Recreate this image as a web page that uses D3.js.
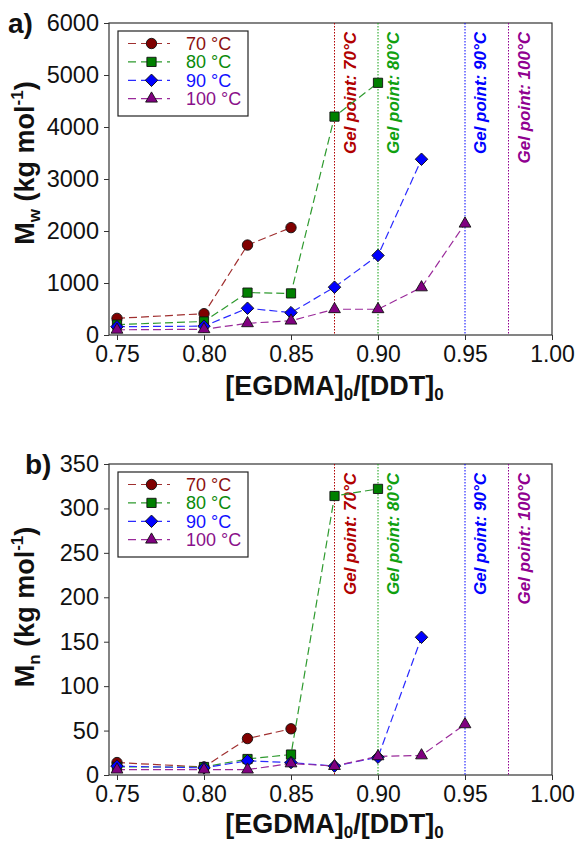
<!DOCTYPE html>
<html>
<head>
<meta charset="utf-8">
<script src="https://cdn.jsdelivr.net/npm/d3@7"></script>
<style>
  body { margin: 0; background: #fff; }
  text { font-family: Arial, "Liberation Sans", sans-serif; }
</style>
</head>
<body>
<svg id="chart" width="576" height="845"></svg>
<script>
// data
var temps = ["70 °C", "80 °C", "90 °C", "100 °C"];
var xs70 = [0.75, 0.80, 0.825, 0.85];
var xs80 = [0.75, 0.80, 0.825, 0.85, 0.875, 0.90];
var xs90 = [0.75, 0.80, 0.825, 0.85, 0.875, 0.90, 0.925];
var xs100 = [0.75, 0.80, 0.825, 0.85, 0.875, 0.90, 0.925, 0.95];

var mw70 = [320, 410, 1730, 2065];
var mw80 = [200, 260, 815, 800, 4200, 4850];
var mw90 = [160, 170, 515, 430, 920, 1530, 3380];
var mw100 = [100, 110, 225, 275, 495, 495, 915, 2140];

var mn70 = [14, 9, 41, 52];
var mn80 = [9, 9, 18, 23, 314, 322];
var mn90 = [10, 8, 16, 14, 10, 20, 155];
var mn100 = [6, 6, 6, 13, 10, 21, 22, 57];

var gelX = [0.875, 0.90, 0.95, 0.975];
var gelLabels = ["Gel point: 70°C", "Gel point: 80°C", "Gel point: 90°C", "Gel point: 100°C"];

var xTicks = [0.75, 0.80, 0.85, 0.90, 0.95, 1.00];
var mwTicks = [0, 1000, 2000, 3000, 4000, 5000, 6000];
var mnTicks = [0, 50, 100, 150, 200, 250, 300, 350];

var markerFill = ["#800000", "#008000", "#0000ff", "#800080"];
var lineColor = ["#a03030", "#2e9a2e", "#2a2aff", "#9a2a9a"];
var textColor = ["#8b1010", "#0a8a0a", "#1010ff", "#8a108a"];
var gelColor = ["#b00000", "#10a010", "#0000ff", "#900090"];

var svg = d3.select("#chart");

function markerPath(i) {
    if (i == 0) return d3.symbol().type(d3.symbolCircle).size(85)();
    if (i == 1) return d3.symbol().type(d3.symbolSquare).size(85)();
    if (i == 2) return d3.symbol().type(d3.symbolSquare).size(78)();
    return d3.symbol().type(d3.symbolTriangle).size(60)();
}
function markerRot(i) { return i == 2 ? " rotate(45)" : ""; }

function panel(opts) {
    var left = 109, right = 552, top = opts.top, bottom = opts.bottom;
    var g = svg.append("g");

    var x = d3.scaleLinear().domain([0.7454, 1.0]).range([left, right]);
    var y = d3.scaleLinear().domain([0, opts.ymax]).range([bottom, top]);

    // frame
    g.append("rect")
        .attr("x", left).attr("y", top)
        .attr("width", right - left).attr("height", bottom - top)
        .attr("fill", "none").attr("stroke", "#333").attr("stroke-width", 1.2);

    // x axis: major + minor ticks
    var xAxis = g.append("g").attr("transform", "translate(0," + bottom + ")");
    xAxis.call(d3.axisBottom(x).tickValues(d3.range(0.75, 1.0001, 0.01)).tickSize(3).tickFormat(""));
    xAxis.call(d3.axisBottom(x).tickValues(xTicks).tickSize(5).tickPadding(6).tickFormat(d3.format(".2f")));
    xAxis.selectAll("path.domain").remove();
    xAxis.selectAll("line").attr("stroke", "#333");
    xAxis.selectAll("text").attr("font-size", 23).attr("fill", "#111");

    var yAxis = g.append("g").attr("transform", "translate(" + left + ",0)");
    yAxis.call(d3.axisLeft(y).tickValues(opts.yticks).tickSize(5).tickPadding(5).tickFormat(d3.format("d")));
    yAxis.select("path.domain").remove();
    yAxis.selectAll("line").attr("stroke", "#333");
    yAxis.selectAll("text").attr("font-size", 23.5).attr("fill", "#111");

    // gel point lines
    gelX.forEach(function (gx, i) {
        g.append("line")
            .attr("x1", x(gx)).attr("x2", x(gx))
            .attr("y1", top).attr("y2", bottom)
            .attr("stroke", gelColor[i]).attr("stroke-width", 1)
            .attr("stroke-dasharray", "1.5,1.5");
        g.append("text")
            .attr("transform", "translate(" + (x(gx) + 21) + "," + (top + 9) + ") rotate(-90)")
            .attr("text-anchor", "end")
            .attr("font-size", 17).attr("font-weight", "bold").attr("font-style", "italic")
            .attr("fill", gelColor[i])
            .text(gelLabels[i]);
    });

    // series
    var line = d3.line().x(function (d) { return x(d[0]); }).y(function (d) { return y(d[1]); });
    opts.series.forEach(function (s, i) {
        var pts = d3.zip(s.xs, s.ys);
        g.append("path").datum(pts)
            .attr("d", line)
            .attr("fill", "none")
            .attr("stroke", lineColor[i]).attr("stroke-width", 1.2)
            .attr("stroke-dasharray", "8,4");
    });
    opts.series.forEach(function (s, i) {
        var pts = d3.zip(s.xs, s.ys);
        g.selectAll(".m" + i).data(pts).enter().append("path")
            .attr("transform", function (d) { return "translate(" + x(d[0]) + "," + y(d[1]) + ")" + markerRot(i); })
            .attr("d", markerPath(i))
            .attr("fill", markerFill[i]).attr("stroke", "#111").attr("stroke-width", 0.9);
    });

    // legend
    var lg = g.append("g").attr("transform", "translate(118," + (top + 8) + ")");
    lg.append("rect").attr("width", 130).attr("height", 85)
        .attr("fill", "#fff").attr("stroke", "#222").attr("stroke-width", 1.2);
    temps.forEach(function (t, i) {
        var ry = 12.5 + i * 18.4;
        lg.append("line").attr("x1", 10).attr("x2", 52).attr("y1", ry).attr("y2", ry)
            .attr("stroke", lineColor[i]).attr("stroke-width", 1.2)
            .attr("stroke-dasharray", "8,5");
        lg.append("path")
            .attr("transform", "translate(33.5," + ry + ")" + markerRot(i))
            .attr("d", markerPath(i))
            .attr("fill", markerFill[i]).attr("stroke", "#111").attr("stroke-width", 0.9);
        lg.append("text").attr("x", 68).attr("y", ry + 6.5)
            .attr("font-size", 18).attr("fill", textColor[i]).text(t);
    });

    // axis titles
    var xt = g.append("text")
        .attr("x", (left + right) / 2 + 4).attr("y", bottom + opts.xtitleDy)
        .attr("text-anchor", "middle").attr("font-size", 27).attr("font-weight", "bold").attr("fill", "#111");
    xt.append("tspan").text("[EGDMA]");
    xt.append("tspan").attr("font-size", 17).attr("dy", 5).text("0");
    xt.append("tspan").attr("dy", -5).text("/[DDT]");
    xt.append("tspan").attr("font-size", 17).attr("dy", 5).text("0");

    var yt = g.append("text")
        .attr("transform", "translate(34," + opts.ytitleY + ") rotate(-90)")
        .attr("text-anchor", "middle").attr("font-size", 27).attr("font-weight", "bold").attr("fill", "#111");
    yt.append("tspan").text("M");
    yt.append("tspan").attr("font-size", 17).attr("dy", 6).text(opts.sub);
    yt.append("tspan").attr("dy", -6).text(" (kg mol");
    yt.append("tspan").attr("font-size", 17).attr("dy", -11).text("-1");
    yt.append("tspan").attr("dy", 11).text(")");

    svg.append("text")
        .attr("x", opts.labelX).attr("y", top + 10)
        .attr("font-size", 28).attr("font-weight", "bold").attr("fill", "#111")
        .text(opts.label);
}

panel({
    top: 23, bottom: 335, ymax: 6000, yticks: mwTicks, sub: "w", ytitleY: 163, label: "a)", labelX: 8, xtitleDy: 60,
    series: [
        { xs: xs70, ys: mw70 }, { xs: xs80, ys: mw80 },
        { xs: xs90, ys: mw90 }, { xs: xs100, ys: mw100 }
    ]
});
panel({
    top: 464, bottom: 775, ymax: 350, yticks: mnTicks, sub: "n", ytitleY: 607, label: "b)", labelX: 25, xtitleDy: 58,
    series: [
        { xs: xs70, ys: mn70 }, { xs: xs80, ys: mn80 },
        { xs: xs90, ys: mn90 }, { xs: xs100, ys: mn100 }
    ]
});
</script>
</body>
</html>
